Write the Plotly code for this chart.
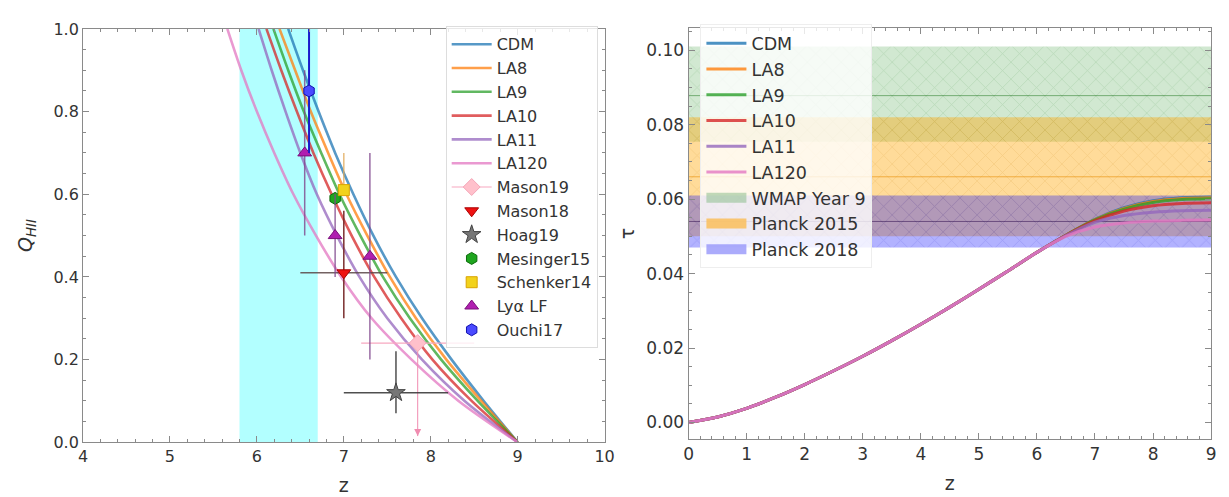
import plotly.graph_objects as go

# ---------------- left panel: ionized fraction Q_HII(z) ----------------
model_names = ["CDM", "LA8", "LA9", "LA10", "LA11", "LA120"]
model_colors = ["#1f77b4", "#ff7f0e", "#2ca02c", "#d62728", "#9467bd", "#e377c2"]

# Q_HII levels and the redshift at which each model crosses them
q_levels = [1.0, 0.9, 0.8, 0.7, 0.6, 0.5, 0.4, 0.3, 0.2, 0.1, 0.0]
z_cdm = [6.36, 6.53, 6.71, 6.90, 7.11, 7.34, 7.60, 7.90, 8.24, 8.61, 9.0]
z_la8 = [6.26, 6.44, 6.62, 6.82, 7.03, 7.27, 7.53, 7.83, 8.18, 8.58, 9.0]
z_la9 = [6.19, 6.36, 6.54, 6.74, 6.95, 7.19, 7.45, 7.76, 8.12, 8.54, 9.0]
z_la10 = [6.11, 6.28, 6.46, 6.65, 6.86, 7.09, 7.35, 7.66, 8.02, 8.47, 9.0]
z_la11 = [6.02, 6.17, 6.33, 6.50, 6.69, 6.92, 7.18, 7.50, 7.90, 8.39, 9.0]
z_la120 = [5.66, 5.82, 6.00, 6.20, 6.42, 6.68, 6.97, 7.32, 7.78, 8.32, 9.0]
q_models = [z_cdm, z_la8, z_la9, z_la10, z_la11, z_la120]

# end of reionization window
reion_window = [5.8, 6.7]

# observational constraints
mason19_z, mason19_q, mason19_dz, mason19_qlow = [7.85], [0.24], [0.65], [0.015]
mason18_z, mason18_q = [7.0], [0.41]
mason18_dq_lo, mason18_dq_hi, mason18_dz = [0.11], [0.15], [0.5]
hoag19_z, hoag19_q = [7.6], [0.12]
hoag19_dq_lo, hoag19_dq_hi, hoag19_dz = [0.05], [0.10], [0.6]
mesinger15_z, mesinger15_q = [6.9], [0.59]
schenker14_z, schenker14_q, schenker14_dq_hi = [7.0], [0.61], [0.09]
lya_z = [6.55, 6.9, 7.3]
lya_q = [0.70, 0.50, 0.45]
lya_dq = [0.20, 0.10, 0.25]
ouchi17_z, ouchi17_q, ouchi17_dq = [6.6], [0.85], [0.15]

# ---------------- right panel: optical depth tau(z) ----------------
tau_z = [0, 0.5, 1, 1.5, 2, 2.5, 3, 3.5, 4, 4.5, 5, 5.5, 6, 6.5, 7, 7.5, 8, 8.5, 9]
tau_common = [0.0, 0.0015, 0.0038, 0.0068, 0.0102, 0.0139, 0.0178, 0.0220,
              0.0264, 0.0310, 0.0358, 0.0407, 0.0457]
tau_cdm_tail = [0.0503, 0.0546, 0.0577, 0.0596, 0.0604, 0.0606]
tau_la8_tail = [0.0503, 0.0545, 0.0575, 0.0594, 0.0602, 0.0604]
tau_la9_tail = [0.0503, 0.0544, 0.0573, 0.0591, 0.0599, 0.0601]
tau_la10_tail = [0.0503, 0.0542, 0.0568, 0.0582, 0.0588, 0.0590]
tau_la11_tail = [0.0502, 0.0538, 0.0556, 0.0565, 0.0569, 0.0570]
tau_la120_tail = [0.0500, 0.0525, 0.0536, 0.0541, 0.0543, 0.0544]
tau_tails = [tau_cdm_tail, tau_la8_tail, tau_la9_tail, tau_la10_tail,
             tau_la11_tail, tau_la120_tail]

# CMB constraints: name, central value, lower and upper 1-sigma bound
cmb_names = ["WMAP Year 9", "Planck 2015", "Planck 2018"]
cmb_tau = [0.0878, 0.066, 0.054]
cmb_lo = [0.0754, 0.050, 0.047]
cmb_hi = [0.1010, 0.082, 0.061]
cmb_fill = ["rgba(0,128,0,0.18)", "rgba(255,165,0,0.40)", "rgba(0,0,255,0.30)"]
cmb_hatch = ["rgba(0,100,0,0.25)", "rgba(200,120,0,0.30)", "rgba(60,60,200,0.35)"]
cmb_line = ["rgba(0,100,0,0.45)", "rgba(230,140,0,0.6)", "rgba(60,30,90,0.6)"]
cmb_key = ["rgba(140,190,140,0.55)", "rgba(250,190,90,0.85)", "rgba(150,150,250,0.8)"]

FONT = "DejaVu Sans"
fig = go.Figure()

# model curves, left panel
for name, color, zs in zip(model_names, model_colors, q_models):
    fig.add_trace(go.Scatter(
        x=zs, y=q_levels, mode="lines", name=name, legend="legend",
        line=dict(color=color, width=2.6, shape="spline", smoothing=0.8),
        opacity=0.75, xaxis="x", yaxis="y"))

err_col = "rgba(60,60,60,0.9)"

fig.add_trace(go.Scatter(
    x=mason19_z, y=mason19_q, mode="lines+markers", name="Mason19", legend="legend",
    line=dict(color="#f7a8c0", width=1.2),
    marker=dict(symbol="diamond", size=13, color="#ffc0cb",
                line=dict(color="#f4a6b8", width=1)),
    error_x=dict(type="data", array=mason19_dz, color="#f7a8c0", thickness=1.2, width=0),
    error_y=dict(type="data", array=[0],
                 arrayminus=[mason19_q[0] - mason19_qlow[0]],
                 color="#f08cb0", thickness=1, width=0),
    xaxis="x", yaxis="y"))
# arrowhead marking the Mason19 upper limit
fig.add_trace(go.Scatter(
    x=mason19_z, y=mason19_qlow, mode="markers", showlegend=False, hoverinfo="skip",
    marker=dict(symbol="arrow-down", size=7, color="#f08cb0", line=dict(width=0)),
    xaxis="x", yaxis="y"))
fig.add_trace(go.Scatter(
    x=mason18_z, y=mason18_q, mode="markers", name="Mason18", legend="legend",
    marker=dict(symbol="triangle-down", size=12, color="#ee1111",
                line=dict(color="#aa0000", width=1)),
    error_y=dict(type="data", array=mason18_dq_hi, arrayminus=mason18_dq_lo,
                 color="#7a2e2e", thickness=1.5, width=0),
    error_x=dict(type="data", array=mason18_dz, color="rgba(90,70,70,0.85)",
                 thickness=1.5, width=0),
    xaxis="x", yaxis="y"))
fig.add_trace(go.Scatter(
    x=hoag19_z, y=hoag19_q, mode="markers", name="Hoag19", legend="legend",
    marker=dict(symbol="star", size=14, color="#777777",
                line=dict(color="#444444", width=1)),
    error_y=dict(type="data", array=hoag19_dq_hi, arrayminus=hoag19_dq_lo,
                 color=err_col, thickness=1.5, width=0),
    error_x=dict(type="data", array=hoag19_dz, color=err_col, thickness=1.5, width=0),
    xaxis="x", yaxis="y"))
fig.add_trace(go.Scatter(
    x=mesinger15_z, y=mesinger15_q, mode="markers", name="Mesinger15", legend="legend",
    marker=dict(symbol="hexagon", size=12, color="#1fa51f",
                line=dict(color="#0b6b0b", width=1)),
    xaxis="x", yaxis="y"))
fig.add_trace(go.Scatter(
    x=schenker14_z, y=schenker14_q, mode="markers", name="Schenker14", legend="legend",
    marker=dict(symbol="square", size=11, color="#f2d21b",
                line=dict(color="#d9a400", width=1)),
    error_y=dict(type="data", array=schenker14_dq_hi, arrayminus=[0],
                 color="rgba(225,170,90,0.8)", thickness=1.5, width=0),
    xaxis="x", yaxis="y"))
fig.add_trace(go.Scatter(
    x=lya_z, y=lya_q, mode="markers", name="Lyα LF", legend="legend",
    marker=dict(symbol="triangle-up", size=12, color="#b01fb0",
                line=dict(color="#7a107a", width=1)),
    error_y=dict(type="data", array=lya_dq, color="rgba(128,70,140,0.8)",
                 thickness=1.5, width=0),
    xaxis="x", yaxis="y"))
fig.add_trace(go.Scatter(
    x=ouchi17_z, y=ouchi17_q, mode="markers", name="Ouchi17", legend="legend",
    marker=dict(symbol="hexagon", size=12, color="#4a4aff",
                line=dict(color="#1010b0", width=1)),
    error_y=dict(type="data", array=ouchi17_dq, color="#1a1acc", thickness=2, width=0),
    xaxis="x", yaxis="y"))

# CMB bands, right panel
for name, t, lo, hi, fc, hc, lc in zip(cmb_names, cmb_tau, cmb_lo, cmb_hi,
                                       cmb_fill, cmb_hatch, cmb_line):
    fig.add_trace(go.Scatter(
        x=[tau_z[0], tau_z[-1], tau_z[-1], tau_z[0], tau_z[0]],
        y=[lo, lo, hi, hi, lo], mode="lines", fill="toself", fillcolor=fc,
        fillpattern=dict(shape="x", bgcolor=fc, fgcolor=hc, size=12, solidity=0.12),
        line=dict(width=0), name=name, showlegend=False,
        hoverinfo="skip", xaxis="x2", yaxis="y2"))
    fig.add_trace(go.Scatter(
        x=[tau_z[0], tau_z[-1]], y=[t, t], mode="lines",
        line=dict(color=lc, width=1), showlegend=False, hoverinfo="skip",
        xaxis="x2", yaxis="y2"))

# model curves, right panel
for k, (name, color, tail) in enumerate(zip(model_names, model_colors, tau_tails)):
    fig.add_trace(go.Scatter(
        x=tau_z, y=tau_common + tail, mode="lines", name=name, legend="legend2",
        legendrank=10 + k, line=dict(color=color, width=3, shape="spline", smoothing=0.8),
        opacity=0.8, xaxis="x2", yaxis="y2"))

# legend keys for the CMB bands
for k, (name, kc) in enumerate(zip(cmb_names, cmb_key)):
    fig.add_trace(go.Scatter(
        x=[None], y=[None], mode="lines", name=name, legend="legend2",
        legendrank=100 + k, line=dict(color=kc, width=16),
        xaxis="x2", yaxis="y2"))

axis_common = dict(
    showline=True, linecolor="#8a8a8a", linewidth=1, mirror="allticks",
    ticks="inside", ticklen=6, tickwidth=1, tickcolor="#8a8a8a",
    showgrid=False, zeroline=False,
)
minor_x = dict(ticks="inside", dtick=0.2, ticklen=3, tickcolor="#8a8a8a")
left_tick = dict(family=FONT, size=16, color="#333333")
right_tick = dict(family=FONT, size=17, color="#333333")
title_font = dict(family=FONT, size=19, color="#333333")

fig.update_layout(
    width=1229, height=497, margin=dict(l=0, r=0, t=0, b=0),
    paper_bgcolor="white", plot_bgcolor="white",
    font=dict(family=FONT, size=16, color="#333333"),
    xaxis=dict(domain=[79 / 1229, 607 / 1229], range=[4, 10], dtick=1, anchor="y",
               title=dict(text="z", font=title_font, standoff=13),
               minor=minor_x, tickfont=left_tick, **axis_common),
    yaxis=dict(domain=[46.5 / 497, 476.3 / 497], range=[0, 1], dtick=0.2, anchor="x",
               tickformat=".1f",
               title=dict(text="<i>Q</i><sub><i>HII</i></sub>", font=title_font,
                          standoff=15),
               minor=dict(ticks="inside", dtick=0.05, ticklen=3, tickcolor="#8a8a8a"),
               tickfont=left_tick, **axis_common),
    xaxis2=dict(domain=[692 / 1229, 1221 / 1229], range=[0, 9], dtick=1, anchor="y2",
                title=dict(text="z", font=title_font, standoff=13),
                minor=minor_x, tickfont=right_tick, **axis_common),
    yaxis2=dict(domain=[50 / 497, 477 / 497], range=[-0.0044, 0.1059], dtick=0.02,
                anchor="x2", tickformat=".2f",
                title=dict(text="τ", font=title_font, standoff=6),
                minor=dict(ticks="inside", dtick=0.005, ticklen=3, tickcolor="#8a8a8a"),
                tickfont=right_tick, **axis_common),
    legend=dict(x=600 / 1229, xanchor="right", y=1 - 18 / 497, yanchor="top",
                bgcolor="rgba(255,255,255,0.8)", bordercolor="#dddddd", borderwidth=1,
                font=dict(family=FONT, size=16, color="#333"), traceorder="normal",
                itemwidth=40),
    legend2=dict(x=704 / 1229, xanchor="left", y=1 - 16 / 497, yanchor="top",
                 bgcolor="rgba(255,255,255,0.8)", bordercolor="#eeeeee", borderwidth=1,
                 font=dict(family=FONT, size=17.5, color="#333"), traceorder="normal",
                 itemwidth=40),
    shapes=[dict(type="rect", xref="x", yref="y domain", x0=reion_window[0],
                 x1=reion_window[1], y0=0, y1=1, fillcolor="rgba(0,255,255,0.3)",
                 line=dict(width=0), layer="below")],
)

fig.write_html("out.html")
